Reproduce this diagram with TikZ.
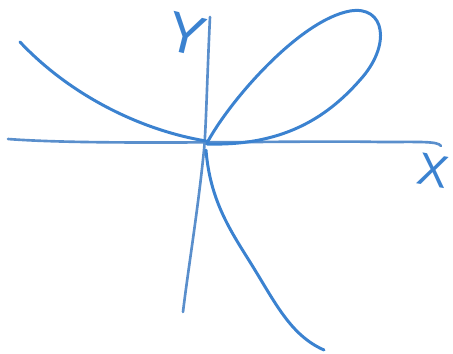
\documentclass[tikz,border=0pt]{standalone}
\usepackage{fontspec}
\setmainfont{Liberation Sans}
\usepackage{tikz}
\definecolor{penCol}{HTML}{3B82D0}
\definecolor{axisCol}{HTML}{5A8FCC}
\tikzset{
  axisline/.style={axisCol, line width=0.75pt, line cap=round},
  curveline/.style={penCol, line width=0.85pt, line cap=round},
  axlbl/.style={text=penCol, font=\fontsize{13}{13}\selectfont, inner sep=0pt},
}
\begin{document}
\begin{tikzpicture}[x=0.01cm,y=-0.01cm]
  \useasboundingbox (0,0) rectangle (453,354);
  % axes
  \draw[axisline] (8,139) .. controls (100,146) and (300,140) .. (380,142)
                   .. controls (420,142) and (438,141) .. (441,146);
  \draw[axisline] (210,17) .. controls (207,80) and (206,130) .. (204,150)
                   .. controls (198,210) and (188,270) .. (183,312);
  \node[axlbl, rotate=-14] (ylbl) at (186,34) {\fontsize{16}{16}\selectfont Y};
  \node[axlbl, rotate=-10] (xlbl) at (433,171) {X};
  % folium
  \draw[curveline] (20,42) .. controls (70,95) and (140,130) .. (206,141);
  \draw[curveline] (207,143) .. controls (230,100) and (300,20) .. (350,11)
                   .. controls (385,5) and (392,45) .. (360,80)
                   .. controls (325,120) and (280,146) .. (207,144);
  \draw[curveline] (206,150) .. controls (210,200) and (230,230) .. (250,262)
                   .. controls (275,302) and (290,335) .. (324,350);
\end{tikzpicture}
\end{document}
